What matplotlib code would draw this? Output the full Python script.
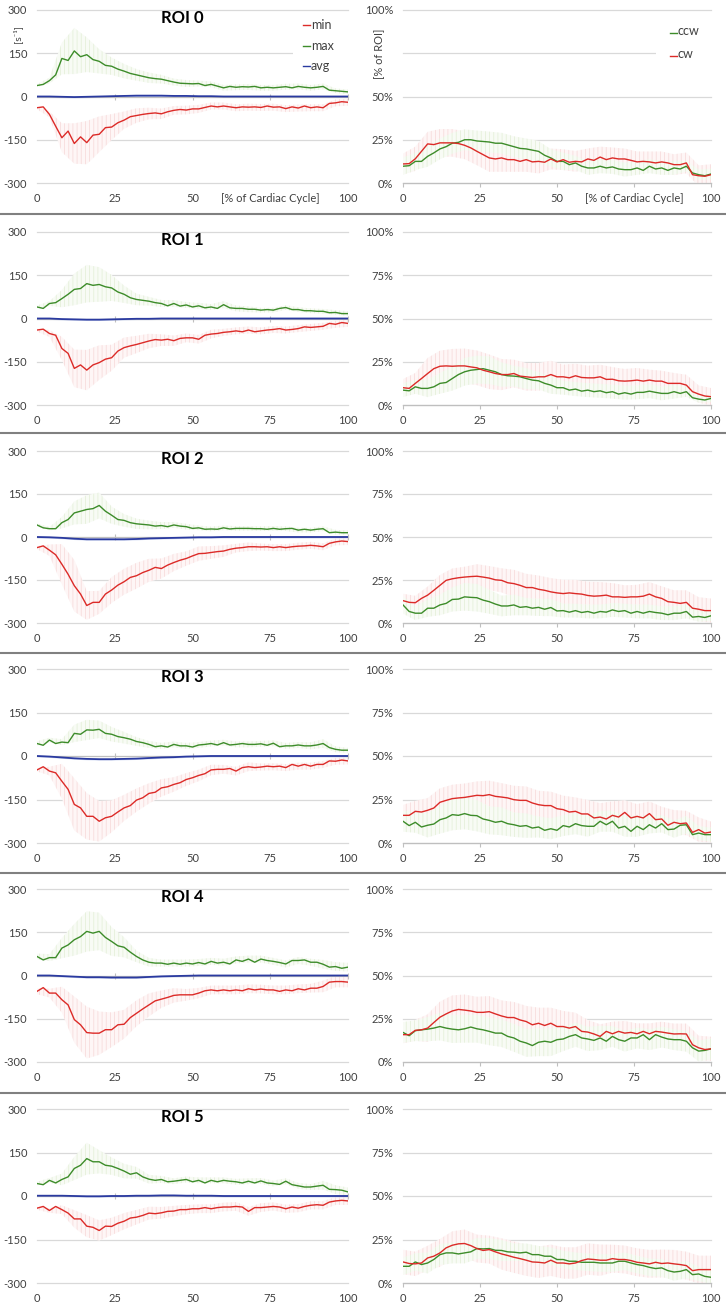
import numpy as np
import matplotlib
matplotlib.use('Agg')
import matplotlib.pyplot as plt
from matplotlib.lines import Line2D
from matplotlib.patches import Rectangle

plt.rcParams['font.family'] = ['Lato', 'DejaVu Sans']
plt.rcParams['hatch.linewidth'] = 0.6

# ---------------- data ----------------
PCT = list(range(0, 101, 2))        # % of cardiac cycle, line samples
PCT_SD = list(range(0, 101, 4))     # % of cardiac cycle, error-bar samples
ROI_NAMES = ['ROI 0', 'ROI 1', 'ROI 2', 'ROI 3', 'ROI 4', 'ROI 5']
LEFT_TICKS = [-300, -150, 0, 150, 300]
RIGHT_TICKS = [0, 25, 50, 75, 100]
X_TICKS = [0, 25, 50, 75, 100]

ROI0_MAX = [38,42,55,75,132,125,158,138,145,128,122,108,105,95,88,80,75,70,65,62,60,55,50,46,45,44,45,38,42,36,30,35,32,34,33,35,30,32,30,32,34,30,35,32,30,32,35,22,20,18,16]
ROI0_MIN = [-39,-36,-62,-103,-143,-120,-163,-140,-160,-134,-131,-108,-106,-91,-82,-70,-66,-62,-59,-57,-60,-53,-48,-45,-47,-43,-43,-38,-33,-36,-33,-36,-39,-36,-37,-36,-38,-33,-37,-36,-42,-36,-40,-33,-39,-36,-39,-24,-22,-18,-20]
ROI0_AVG = [0,0,-1,-2,-1,0,1,2,3,3,3,2,2,1,1,0,0,0,0,0,0,0,0,0,0,0]
ROI0_CCW = [9.7,10,12.5,12.5,15.4,17.4,19.7,21,23,23.5,25,25,24.3,24,23.7,23,23,22,21,20,19.7,19,18.3,16,14.5,12.5,12.5,10.6,11.6,9.7,8.7,8.7,9.7,8.7,9.3,8.1,7.7,7.7,8.7,7.3,9.7,8.1,8.7,7.3,8.7,8.1,9.7,5.8,4.8,4.2,5.2]
ROI0_CW = [11,11.2,14,18.3,22.6,22.2,23.2,23.2,23.2,22.8,21.8,20.3,18.3,16.4,14.5,13.9,14.5,13.5,13.5,12.5,13.5,12.2,12.5,12,13.9,12.2,13.5,12,12.5,12.2,13.9,13.1,15,13.5,14.5,13.9,13.9,13.1,12.2,12.5,12.2,11.6,12.2,11.6,10.6,10.6,11.6,4.8,4.2,3.9,4.8]

ROI1_MAX = [40,35,52,55,69,84,101,104,121,115,118,110,106,92,84,72,66,63,60,55,52,44,52,43,47,40,44,37,40,35,48,37,35,35,32,32,29,31,29,35,38,31,31,27,27,25,25,20,21,17,17]
ROI1_MIN = [-40,-37,-52,-58,-104,-121,-173,-161,-179,-161,-153,-141,-136,-113,-101,-95,-90,-84,-78,-73,-75,-72,-77,-69,-67,-67,-72,-58,-54,-52,-48,-46,-43,-46,-40,-46,-43,-40,-38,-35,-40,-38,-35,-29,-31,-29,-27,-17,-20,-14,-17]
ROI1_AVG = [0,0,-2,-3,-4,-4,-3,-2,-1,-1,0,0,0,0,0,0,0,0,0,0,0,0,0,0,0,0]
ROI1_CW = [10,9.6,12.5,15.3,18.2,21,22.4,22.6,22.4,22.6,22.6,22,21.5,20.1,19.2,18.2,17.6,17.6,18.2,16.7,16.3,15.9,16.3,16.3,17.6,16.3,16.3,15.7,16.9,15.9,15.7,15.7,16.3,14.8,14.9,14,13.8,14,14.4,13.8,14.4,13.8,13.8,12.5,12.5,12.5,11.5,7.7,6.3,5.2,4.8]
ROI1_CCW = [8.6,8.2,10.5,9.6,9.6,10.5,12.5,13,15.3,17.6,19.2,20.1,20.5,21,20.1,19.2,17.6,16.9,16.7,16.3,15.3,14.4,14,12.5,11.5,10,10,8.6,9.2,8,8.6,7.7,8.2,7.1,7.7,6.3,7.1,6.3,7.3,7.3,8,7.3,6.7,6.7,7.7,6.7,7.7,4.2,3.4,2.9,3.8]

ROI2_MAX = [42,32,29,29,50,61,84,90,96,99,110,90,76,61,58,50,46,44,42,38,40,36,42,38,36,30,32,27,28,27,32,28,30,30,30,29,29,27,30,27,29,30,24,27,24,27,29,15,17,15,15]
ROI2_MIN = [-37,-31,-46,-62,-95,-130,-170,-199,-239,-228,-228,-199,-185,-168,-156,-141,-135,-124,-116,-106,-110,-98,-89,-81,-75,-66,-58,-57,-54,-51,-49,-43,-39,-37,-34,-34,-35,-34,-37,-34,-37,-34,-32,-31,-29,-31,-34,-22,-17,-14,-16]
ROI2_AVG = [0,-1,-3,-6,-8,-8,-8,-8,-7,-5,-4,-3,-2,-1,-1,0,0,0,0,0,0,0,0,0,0,0]
ROI2_CW = [13,12,11.8,14.3,16.2,19,21.9,24.8,25.7,26.3,26.7,27,27.2,26.7,26.1,25.1,24.8,23.4,22.9,21.9,20.6,20.6,19.6,19,18.1,17.5,17.1,17.5,17.1,16.8,16,15.6,15.8,16.2,15.2,15.2,14.9,15.2,15.2,15.6,16.8,15.2,14.3,12.4,12,11.4,12,8.6,8,7.2,7.2]
ROI2_CCW = [10.5,6.7,5.7,5.7,8.6,8.6,10.5,11.4,13.7,13.9,15.2,14.9,14.7,13.3,12.4,11,9.9,9.9,10.5,9.1,9.5,8.6,9.1,8,9,7,7.2,6.3,7.2,6.1,6.7,5.7,6.7,6.3,7.6,6.7,7.2,5.7,6.7,5.7,6.7,6.1,5.7,4.8,5.7,5.7,6.7,3.4,3.8,3.2,4.2]

ROI3_MAX = [43,37,55,43,48,46,78,75,90,89,92,78,75,67,63,58,50,46,40,32,35,31,40,35,35,31,38,40,43,38,46,38,40,43,40,40,42,37,44,32,35,35,38,35,35,38,43,29,23,20,20]
ROI3_MIN = [-48,-37,-52,-58,-87,-115,-167,-179,-208,-208,-225,-213,-208,-193,-179,-171,-152,-144,-129,-125,-110,-106,-98,-92,-81,-75,-67,-61,-48,-46,-46,-43,-52,-40,-37,-40,-38,-35,-37,-35,-40,-29,-35,-29,-35,-29,-29,-17,-18,-14,-17]
ROI3_AVG = [0,-2,-5,-8,-10,-11,-11,-10,-9,-7,-5,-4,-2,-1,0,0,0,0,0,0,0,0,0,0,0,0]
ROI3_CW = [15.9,15.9,18.2,17.8,18.8,20.1,23.4,24.5,25.5,25.9,26.2,26.8,27.4,27.2,27.8,26.8,26.4,25.9,24.9,24.5,24.5,23,22,21.5,21.5,19.7,19.2,17.8,18.2,16.7,16.7,14.4,14.9,13.8,15.9,14.9,17.6,14.4,15.3,14.4,16.9,13.4,13.8,10.2,11.9,11.1,11.5,6.1,7.7,5.7,6.3]
ROI3_CCW = [12.5,10,11.9,9.2,10.2,10.9,13.4,14.4,16.3,15.9,16.9,15.9,15.7,13.8,13,11.9,12.5,11.1,10.5,9.6,10,8.6,9.2,7.3,8.2,7.3,10,9.2,11.1,10,9.6,9.6,12.5,10.5,12.5,8.6,9.6,6.7,9.6,7.7,10.5,8.6,11.1,7.7,8,10.2,10.5,4.8,5.7,4.8,4.8]

ROI4_MAX = [66,54,62,62,95,106,124,135,153,147,153,132,118,103,98,81,66,54,46,43,43,39,43,39,43,40,45,40,49,43,46,40,54,49,57,46,57,52,49,45,40,52,52,54,46,46,39,29,31,25,29]
ROI4_MIN = [-55,-42,-61,-61,-84,-102,-153,-171,-198,-200,-200,-188,-188,-171,-169,-146,-131,-116,-102,-88,-82,-76,-69,-67,-67,-67,-61,-53,-50,-53,-50,-53,-50,-53,-46,-50,-47,-50,-50,-55,-50,-53,-46,-50,-44,-44,-38,-23,-21,-21,-23]
ROI4_AVG = [0,0,-2,-4,-6,-6,-7,-7,-7,-5,-3,-2,-1,0,0,0,0,0,0,0,0,0,0,0,0,0]
ROI4_CW = [15.8,15.8,18.3,18.6,19.6,22.8,25.9,27.8,29.5,30.4,30,29.5,28.7,28.7,29.1,27.8,26.6,25.7,25.7,24.3,23.4,21.5,22.4,21.1,22.4,20.5,20.5,19.6,20.5,17.7,17.3,16.2,14.8,17.7,16.3,17.7,16.7,17.1,16.3,17.7,16.3,17.7,17.3,16.7,16.2,16.3,16.2,10,8.2,7.2,7.6]
ROI4_CCW = [17.1,15.2,18.1,18.6,19,19.6,20.5,19.6,19,18.6,19.2,20.2,19.2,18.6,17.7,16.7,16.7,14.8,13.9,12,11,9.5,11.4,12,11.4,12.9,13.3,14.8,15.8,13.9,13.3,12.5,13.9,12,14.8,12.9,12,13.9,13.9,15.8,12.9,15.8,14.4,13.3,12.9,12.9,12,8.2,6.3,6.7,7.6]

ROI5_MAX = [43,39,54,45,57,66,95,106,129,118,118,106,103,95,86,75,80,66,58,54,57,49,51,54,57,49,54,45,54,49,54,51,49,45,51,45,52,45,43,40,51,39,35,31,31,34,37,23,22,20,14]
ROI5_MIN = [-42,-36,-50,-36,-47,-59,-79,-79,-104,-108,-119,-104,-105,-94,-87,-76,-73,-67,-59,-61,-58,-53,-52,-47,-47,-44,-44,-40,-44,-40,-38,-38,-36,-38,-53,-40,-40,-38,-36,-38,-44,-38,-42,-36,-32,-30,-32,-21,-17,-15,-17]
ROI5_AVG = [1,1,1,0,-1,-1,0,0,1,1,2,2,1,1,1,0,0,0,0,0,0,0,0,0,0,0]
ROI5_CW = [12.1,11.2,11,11.5,14.4,15.4,17.3,20.2,21.7,22.5,22.7,21.5,19.8,18.7,19.2,17.9,16.7,15.8,14.8,14,13.1,12.1,11.9,11.5,13.1,11.5,11.5,11,11.5,12.9,13.8,13.5,13.1,13.1,14,13.5,13.5,12.9,11.9,11.5,11,11.9,11.2,11.5,11,10.6,10,7.1,7.7,7.7,7.7]
ROI5_CCW = [9.6,9.6,12.1,10.6,11.5,13.5,16.3,17.3,17.3,16.7,17.3,17.9,19.8,19.6,19.8,18.8,18.7,17.9,17.7,17.3,17.7,16.3,16.3,15.4,15.4,13.5,13.5,12.5,12.5,11.9,11.9,11.9,11.5,11.5,11.5,12.5,12.5,11.5,10.6,10,9,8.3,8.7,7.1,6.3,6.7,7.7,4.8,5.2,3.8,3.3]

# standard deviations (error bars), sampled every 4 %
ROI0_MIN_SD = [5,10,50,70,75,62,45,30,25,20,18,15,15,14,12,12,12,12,12,12,12,12,12,12,12,12]
ROI0_MAX_SD = [5,10,55,80,60,42,30,25,20,18,15,12,12,10,10,10,10,10,10,10,10,10,10,10,8,8]
ROI0_CW_SD = [6,7,7,8,8,8,8,8,8,7,7,7,6,6,6,6,6,6,6,6,6,6,6,6,6,6]
ROI0_CCW_SD = [5,5,6,6,6,6,6,6,6,6,6,6,5,5,4,4,4,4,4,4,4,4,4,3,3,3]
ROI1_MAX_SD = [5,8,30,55,65,60,45,30,20,15,12,12,10,10,10,12,10,10,8,8,8,8,8,8,8,8]
ROI1_MIN_SD = [5,12,40,65,70,60,45,35,30,25,20,18,15,15,15,12,12,12,12,12,12,12,12,12,12,12]
ROI1_CW_SD = [5,6,9,9,10,10,10,10,9,8,8,8,8,7,7,7,7,7,7,7,6,6,6,6,5,5]
ROI1_CCW_SD = [4,4,5,6,7,8,8,8,7,6,6,5,5,4,4,4,4,4,4,4,4,4,4,3,2,2]
ROI2_MAX_SD = [5,6,20,40,50,45,30,22,18,15,12,10,10,8,8,8,8,8,8,8,8,8,8,8,8,8]
ROI2_MIN_SD = [5,20,70,90,50,40,45,45,45,40,35,30,25,25,22,20,15,15,12,12,12,12,12,12,12,12]
ROI2_CW_SD = [4,4,5,6,6,6,7,7,7,8,8,8,8,8,8,8,8,8,7,7,7,7,7,7,7,7]
ROI2_CCW_SD = [5,4,5,6,7,8,8,7,6,6,5,5,5,4,4,4,4,4,4,4,4,4,4,4,3,3]
ROI3_MAX_SD = [8,8,10,30,35,30,25,20,15,12,10,10,10,10,10,10,10,10,10,10,10,10,12,15,10,8]
ROI3_MIN_SD = [5,15,60,90,80,70,55,45,40,35,30,25,22,20,18,15,15,15,12,12,12,12,12,12,12,12]
ROI3_CW_SD = [6,6,7,8,8,8,8,8,8,8,8,8,8,8,8,8,8,8,7,7,7,7,7,7,7,6]
ROI3_CCW_SD = [6,6,7,8,9,9,9,8,8,7,7,6,6,6,6,6,6,6,6,6,5,5,5,5,4,4]
ROI4_MAX_SD = [10,12,35,55,70,65,50,35,20,15,12,12,12,12,12,12,12,12,12,12,12,12,12,15,15,15]
ROI4_MIN_SD = [10,15,45,80,90,75,60,50,45,40,30,25,20,18,15,15,15,15,15,15,15,15,15,20,20,18]
ROI4_CW_SD = [5,6,8,9,9,9,9,9,9,9,9,9,9,9,8,7,7,7,7,6,6,6,6,6,7,7]
ROI4_CCW_SD = [6,6,7,8,8,8,8,8,8,8,8,8,8,7,7,7,7,6,6,6,6,6,6,6,6,6]
ROI5_MAX_SD = [6,8,20,40,55,40,30,25,20,15,12,10,10,10,10,10,10,10,10,10,10,10,10,15,15,15]
ROI5_MIN_SD = [5,8,15,30,38,35,30,28,25,22,20,18,16,15,15,15,15,15,15,14,14,14,14,14,14,14]
ROI5_CW_SD = [7,7,7,8,8,8,8,8,9,9,9,9,9,9,9,9,9,8,8,8,8,8,8,8,8,8]
ROI5_CCW_SD = [5,5,6,6,6,6,6,6,6,5,5,5,5,5,5,5,5,5,5,5,5,5,5,5,4,4]
AVG_SD = 3

MAXS = [ROI0_MAX, ROI1_MAX, ROI2_MAX, ROI3_MAX, ROI4_MAX, ROI5_MAX]
MINS = [ROI0_MIN, ROI1_MIN, ROI2_MIN, ROI3_MIN, ROI4_MIN, ROI5_MIN]
AVGS = [ROI0_AVG, ROI1_AVG, ROI2_AVG, ROI3_AVG, ROI4_AVG, ROI5_AVG]
CWS = [ROI0_CW, ROI1_CW, ROI2_CW, ROI3_CW, ROI4_CW, ROI5_CW]
CCWS = [ROI0_CCW, ROI1_CCW, ROI2_CCW, ROI3_CCW, ROI4_CCW, ROI5_CCW]
MAX_SDS = [ROI0_MAX_SD, ROI1_MAX_SD, ROI2_MAX_SD, ROI3_MAX_SD, ROI4_MAX_SD, ROI5_MAX_SD]
MIN_SDS = [ROI0_MIN_SD, ROI1_MIN_SD, ROI2_MIN_SD, ROI3_MIN_SD, ROI4_MIN_SD, ROI5_MIN_SD]
CW_SDS = [ROI0_CW_SD, ROI1_CW_SD, ROI2_CW_SD, ROI3_CW_SD, ROI4_CW_SD, ROI5_CW_SD]
CCW_SDS = [ROI0_CCW_SD, ROI1_CCW_SD, ROI2_CCW_SD, ROI3_CCW_SD, ROI4_CCW_SD, ROI5_CCW_SD]

# ---------------- style ----------------
RED = '#dc2b28'
GREEN = '#3d8c2a'
BLUE = '#2a3aa0'
RED_FACE, RED_HATCH = '#fef6f6', '#f7dcdc'
GREEN_FACE, GREEN_HATCH = '#f8fbf5', '#e5f0da'
BLUE_FACE = '#d3dbf3'
GRID = '#d9d9d9'
AXIS = '#bfbfbf'
TXT = '#404040'
TICK_FS = 8

W, H = 726, 1308
fig = plt.figure(figsize=(W / 100, H / 100), dpi=100)
fig.patch.set_facecolor('white')

ROW_TOP = [10, 232, 451, 669, 889, 1109]
ROW_BOT = [183, 405, 623, 843, 1062, 1283]
SEPS = [214, 433, 653, 873, 1093]
LX0, LX1 = 37, 348
RX0, RX1 = 403, 711


def add_ax(x0, x1, t, b):
    return fig.add_axes([x0 / W, 1 - b / H, (x1 - x0) / W, (b - t) / H])


def band(ax, center, sd, face, hatch):
    c = np.asarray(center, dtype=float)[::2]
    s = np.asarray(sd, dtype=float)
    ax.fill_between(PCT_SD, c - s, c + s, facecolor=face, edgecolor=hatch,
                    hatch='||||', linewidth=0, zorder=1)


def style_common(ax):
    ax.set_xlim(0, 100)
    ax.set_xticks(X_TICKS)
    ax.grid(axis='y', color=GRID, lw=0.9)
    ax.grid(axis='x', visible=False)
    ax.set_axisbelow(True)
    for s in ax.spines.values():
        s.set_visible(False)
    for gl in ax.yaxis.get_gridlines():
        gl.set_clip_on(False)
    ax.set_facecolor('none')


for i in range(6):
    t, b = ROW_TOP[i], ROW_BOT[i]
    # ---------- left panel: min / max / avg ----------
    axl = add_ax(LX0, LX1, t, b)
    style_common(axl)
    axl.set_ylim(-300, 300)
    axl.set_yticks(LEFT_TICKS)
    axl.set_yticklabels([str(v) for v in LEFT_TICKS])
    axl.tick_params(axis='both', length=0, labelsize=TICK_FS, labelcolor=TXT)
    axl.tick_params(axis='y', pad=7)
    axl.tick_params(axis='x', pad=7)
    axl.axhline(0, color=AXIS, lw=0.8, zorder=1.5)
    axl.plot([25, 50, 75, 100], [0, 0, 0, 0], ls='none', marker='|', ms=4,
             mew=0.8, color=AXIS, zorder=1.5, clip_on=False)

    band(axl, MINS[i], MIN_SDS[i], RED_FACE, RED_HATCH)
    band(axl, MAXS[i], MAX_SDS[i], GREEN_FACE, GREEN_HATCH)
    avg = np.asarray(AVGS[i], dtype=float)
    axl.fill_between(PCT_SD, avg - AVG_SD, avg + AVG_SD, color=BLUE_FACE, lw=0, zorder=1.2)
    axl.plot(PCT, MINS[i], color=RED, lw=1.0, zorder=3)
    axl.plot(PCT, MAXS[i], color=GREEN, lw=1.0, zorder=3)
    axl.plot(PCT_SD, AVGS[i], color=BLUE, lw=1.3, zorder=3)

    axl.text(0.466, 1 - 8 / (b - t), ROI_NAMES[i], transform=axl.transAxes,
             ha='center', va='center', fontsize=12, fontweight='bold', color='black')

    # ---------- right panel: ccw / cw ----------
    axr = add_ax(RX0, RX1, t, b)
    style_common(axr)
    axr.set_ylim(0, 100)
    axr.set_yticks(RIGHT_TICKS)
    axr.set_yticklabels([f'{v}%' for v in RIGHT_TICKS])
    axr.spines['bottom'].set_visible(True)
    axr.spines['bottom'].set_color(AXIS)
    axr.spines['bottom'].set_linewidth(0.9)
    axr.tick_params(axis='y', length=0, labelsize=TICK_FS, labelcolor=TXT, pad=7)
    axr.tick_params(axis='x', length=3, width=0.8, color=AXIS, labelsize=TICK_FS,
                    labelcolor=TXT, pad=4.5)
    band(axr, CWS[i], CW_SDS[i], RED_FACE, RED_HATCH)
    band(axr, CCWS[i], CCW_SDS[i], GREEN_FACE, GREEN_HATCH)
    axr.plot(PCT, CCWS[i], color=GREEN, lw=1.0, zorder=3)
    axr.plot(PCT, CWS[i], color=RED, lw=1.0, zorder=3)

    if i == 0:
        xl = ['0', '25', '50', '[% of Cardiac Cycle]', '100']
        axl.set_xticklabels(xl)
        axr.set_xticklabels(xl)
        axr.set_yticklabels(['0%', '25%', '50%', '', '100%'])
        # legends
        axl.add_patch(Rectangle((0.823, 0.615), 0.19, 0.365, transform=axl.transAxes,
                                facecolor='white', edgecolor='none', zorder=4, clip_on=False))
        for lab, col, yy in [('min', RED, 0.913), ('max', GREEN, 0.792), ('avg', BLUE, 0.676)]:
            axl.plot([0.855, 0.878], [yy, yy], transform=axl.transAxes, color=col,
                     lw=1.0, zorder=5, clip_on=False)
            axl.text(0.880, yy, lab, transform=axl.transAxes, ha='left', va='center',
                     fontsize=9, color=TXT, zorder=5)
        axr.add_patch(Rectangle((0.821, 0.68), 0.19, 0.27, transform=axr.transAxes,
                                facecolor='white', edgecolor='none', zorder=4, clip_on=False))
        for lab, col, yy in [('ccw', GREEN, 0.878), ('cw', RED, 0.744)]:
            axr.plot([0.867, 0.888], [yy - 0.01, yy - 0.01], transform=axr.transAxes, color=col,
                     lw=1.0, zorder=5, clip_on=False)
            axr.text(0.890, yy, lab, transform=axr.transAxes, ha='left', va='center',
                     fontsize=9, color=TXT, zorder=5)
        fig.text(17 / W, 1 - 34 / H, '[s\u207b\u00b9]', rotation=90, ha='center', va='center',
                 fontsize=7.5, color=TXT)
        fig.text(380 / W, 1 - 54 / H, '[% of ROI]', rotation=90, ha='center', va='center',
                 fontsize=8, color=TXT)

for y in SEPS:
    fig.add_artist(Line2D([0, 1], [1 - y / H, 1 - y / H], transform=fig.transFigure,
                          color='#808080', lw=1.5))

fig.savefig('out.png', dpi=100, facecolor='white')
